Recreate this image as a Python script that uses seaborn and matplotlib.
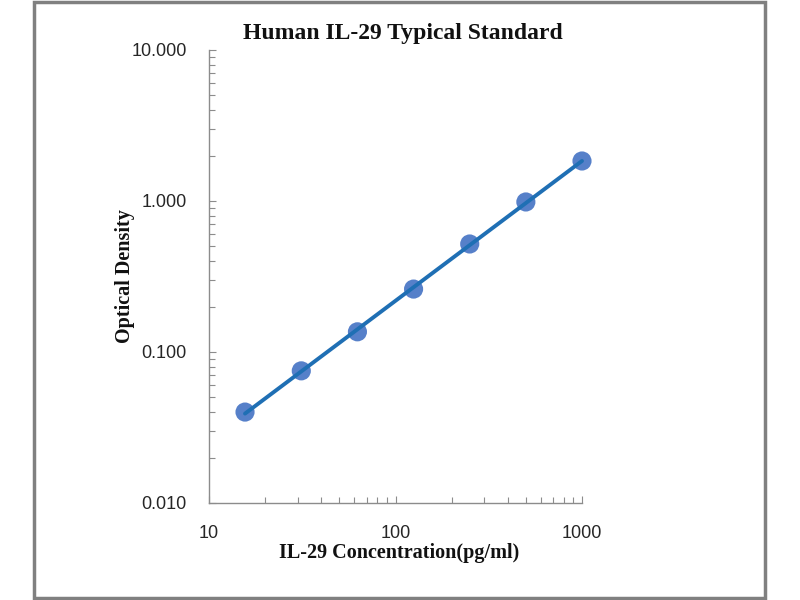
import numpy as np
import pandas as pd
import matplotlib
matplotlib.use('Agg')
import matplotlib.pyplot as plt
import seaborn as sns

# standard curve data
conc = [15.6, 31.25, 62.5, 125, 250, 500, 1000]
od = [0.040, 0.075, 0.136, 0.261, 0.519, 0.985, 1.84]

y_ticks = [0.01, 0.1, 1, 10]
x_ticks = [10, 100, 1000]

sns.set_style('white')
plt.rcParams['font.family'] = ['Liberation Sans', 'DejaVu Sans']

df = pd.DataFrame({'conc': conc, 'od': od})

# power trendline (straight on log-log)
k, b = np.polyfit(np.log10(df['conc']), np.log10(df['od']), 1)
df['fit'] = 10 ** (k * np.log10(df['conc']) + b)

fig = plt.figure(figsize=(8, 6), dpi=100)
ax = fig.add_axes([0.26125, 0.1617, 0.46625, 0.755])

sns.scatterplot(data=df, x='conc', y='od', ax=ax, s=190, color='#4472C4',
                edgecolor='none', alpha=0.9, zorder=2, clip_on=False)
sns.lineplot(data=df, x='conc', y='fit', ax=ax, color='#1F6FB4', lw=2.8,
             zorder=3, clip_on=False)

ax.set_xscale('log')
ax.set_yscale('log')
ax.set_xlim(10, 1000)
ax.set_ylim(0.01, 10)
ax.set_xticks(x_ticks)
ax.set_xticklabels([str(v) for v in x_ticks])
ax.set_yticks(y_ticks)
ax.set_yticklabels([f'{v:.3f}' for v in y_ticks])

for s in ['top', 'right']:
    ax.spines[s].set_visible(False)
for s in ['left', 'bottom']:
    ax.spines[s].set_color('#8c8c8c')
    ax.spines[s].set_linewidth(1.0)

ax.tick_params(which='both', direction='in', color='#8c8c8c', width=0.8,
               left=True, bottom=True)
ax.tick_params(which='major', length=5)
ax.tick_params(which='minor', length=4)
ax.tick_params(axis='y', which='major', pad=16, labelsize=13, labelcolor='#262626')
ax.tick_params(axis='x', which='major', pad=16, labelsize=13, labelcolor='#262626')

serif = ['Liberation Serif', 'DejaVu Serif']
ax.set_title('Human IL-29 Typical Standard', family=serif, fontsize=17,
             fontweight='bold', pad=8, x=0.52, color='#111111')
ax.set_xlabel('IL-29 Concentration(pg/ml)', family=serif, fontsize=14.5,
              fontweight='bold', va='center', color='#111111')
ax.set_ylabel('Optical Density', family=serif, fontsize=14.5,
              fontweight='bold', va='center', color='#111111')
ax.xaxis.set_label_coords(0.51, (503 - 553) / 453)
ax.yaxis.set_label_coords((125 - 209) / 373, 0.5)

# grey frame around the whole chart
frame = plt.Rectangle((34 / 800, 2 / 600), 731 / 800, 596 / 600,
                      transform=fig.transFigure, fill=False,
                      edgecolor='#808080', lw=2.5)
fig.patches.append(frame)

fig.savefig('out.png', dpi=100)
